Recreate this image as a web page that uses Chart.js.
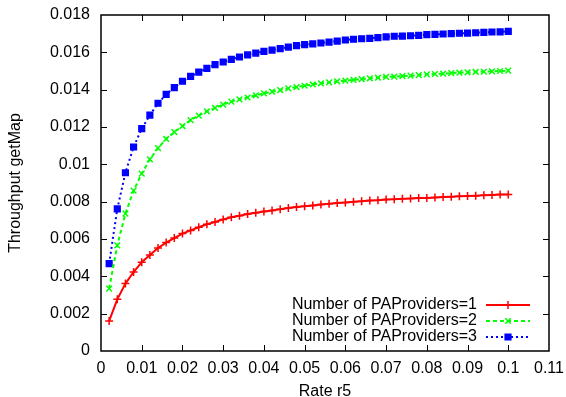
<!DOCTYPE html>
<html><head><meta charset="utf-8">
<script src="https://cdn.jsdelivr.net/npm/chart.js@4"></script>
<style>html,body{margin:0;padding:0;background:#fff}#wrap{width:566px;height:397px}</style>
</head><body><div id="wrap"><canvas id="c" width="566" height="397"></canvas></div>
<script>
const rates = [0.002,0.004,0.006,0.008,0.010,0.012,0.014,0.016,0.018,0.020,
  0.022,0.024,0.026,0.028,0.030,0.032,0.034,0.036,0.038,0.040,
  0.042,0.044,0.046,0.048,0.050,0.052,0.054,0.056,0.058,0.060,
  0.062,0.064,0.066,0.068,0.070,0.072,0.074,0.076,0.078,0.080,
  0.082,0.084,0.086,0.088,0.090,0.092,0.094,0.096,0.098,0.100];
const providers1 = [0.00161,0.00277,0.00361,0.00423,0.00476,0.00514,0.00552,0.00581,0.00605,0.00629,
  0.00646,0.00663,0.00679,0.00691,0.00705,0.00716,0.00725,0.00734,0.00741,0.00747,
  0.00753,0.00759,0.00766,0.00771,0.00775,0.00780,0.00785,0.00789,0.00793,0.00796,
  0.00800,0.00802,0.00806,0.00808,0.00811,0.00813,0.00816,0.00817,0.00819,0.00820,
  0.00822,0.00825,0.00827,0.00829,0.00830,0.00832,0.00834,0.00836,0.00838,0.00839];
const providers2 = [0.00334,0.00566,0.00736,0.00859,0.00950,0.01027,0.01087,0.01136,0.01173,0.01205,
  0.01237,0.01261,0.01284,0.01302,0.01320,0.01336,0.01348,0.01358,0.01370,0.01380,
  0.01389,0.01398,0.01407,0.01414,0.01421,0.01428,0.01434,0.01439,0.01445,0.01448,
  0.01452,0.01457,0.01461,0.01464,0.01468,0.01470,0.01473,0.01475,0.01478,0.01482,
  0.01484,0.01486,0.01489,0.01491,0.01493,0.01495,0.01496,0.01498,0.01500,0.01502];
const providers3 = [0.00468,0.00761,0.00955,0.01093,0.01191,0.01264,0.01327,0.01375,0.01411,0.01445,
  0.01471,0.01494,0.01514,0.01534,0.01548,0.01562,0.01575,0.01586,0.01596,0.01605,
  0.01612,0.01620,0.01628,0.01636,0.01641,0.01645,0.01650,0.01655,0.01660,0.01666,
  0.01670,0.01673,0.01675,0.01679,0.01683,0.01686,0.01687,0.01689,0.01691,0.01695,
  0.01696,0.01698,0.01700,0.01702,0.01703,0.01705,0.01707,0.01709,0.01710,0.01712];
const seriesLabels = ['Number of PAProviders=1','Number of PAProviders=2','Number of PAProviders=3'];
const xTickLabels = ['0','0.01','0.02','0.03','0.04','0.05','0.06','0.07','0.08','0.09','0.1','0.11'];
const yTickLabels = ['0','0.002','0.004','0.006','0.008','0.01','0.012','0.014','0.016','0.018'];
const xTitle = 'Rate r5';
const yTitle = 'Throughput getMap';

Chart.defaults.font.family = '"Liberation Sans", Arial, sans-serif';
Chart.defaults.font.size = 16;
Chart.defaults.color = '#000';

function pts(ys){ return rates.map((r,i)=>({x:r,y:ys[i]})); }

const framePlugin = {
  id: 'frame',
  beforeDatasetsDraw(chart){
    const {ctx, chartArea:a, scales:{x,y}} = chart;
    ctx.save();
    ctx.strokeStyle = '#000';
    ctx.lineWidth = 1;
    const tl = 6;
    ctx.beginPath();
    x.ticks.forEach((t,i)=>{
      if (i===0 || i===x.ticks.length-1) return;
      const px = Math.round(x.getPixelForValue(t.value))+0.5;
      ctx.moveTo(px,a.bottom); ctx.lineTo(px,a.bottom-tl);
      ctx.moveTo(px,a.top); ctx.lineTo(px,a.top+tl);
    });
    y.ticks.forEach((t,i)=>{
      if (i===0 || i===y.ticks.length-1) return;
      const py = Math.round(y.getPixelForValue(t.value))+0.5;
      ctx.moveTo(a.left,py); ctx.lineTo(a.left+tl,py);
      ctx.moveTo(a.right,py); ctx.lineTo(a.right-tl,py);
    });
    ctx.stroke();
    ctx.lineWidth = 1.5;
    ctx.strokeRect(a.left, a.top, a.right-a.left, a.bottom-a.top);
    ctx.restore();
  }
};

const legendPlugin = {
  id: 'gpLegend',
  afterDraw(chart){
    const {ctx, chartArea:a} = chart;
    ctx.save();
    ctx.font = '16px "Liberation Sans", Arial, sans-serif';
    ctx.textAlign = 'right';
    ctx.textBaseline = 'middle';
    chart.data.datasets.forEach((ds,i)=>{
      const yy = a.bottom - 46 + i*16;
      ctx.fillStyle = '#000';
      ctx.fillText(ds.label, a.right - 72, yy);
      const x0 = a.right - 63, x1 = a.right - 19;
      ctx.strokeStyle = ds.borderColor;
      ctx.lineWidth = ds.borderWidth;
      ctx.setLineDash(ds.borderDash || []);
      ctx.beginPath(); ctx.moveTo(x0,yy); ctx.lineTo(x1,yy); ctx.stroke();
      ctx.setLineDash([]);
      ctx.lineWidth = ds.pointBorderWidth;
      ctx.fillStyle = ds.borderColor;
      Chart.helpers.drawPoint(ctx, {pointStyle: ds.pointStyle, radius: ds.pointRadius, rotation: 0, borderWidth: ds.pointBorderWidth}, (x0+x1)/2, yy);
    });
    ctx.restore();
  }
};

function zeroPad(s){ s.paddingLeft = 0; s.paddingRight = 0; s.paddingTop = 0; s.paddingBottom = 0; }

new Chart(document.getElementById('c'), {
  type: 'line',
  data: {
    datasets: [
      {label: seriesLabels[0], data: pts(providers1), borderColor:'#ff0000', backgroundColor:'#ff0000',
       borderWidth:2, pointStyle:'cross', pointRadius:4, pointBorderWidth:1.5, pointBorderColor:'#ff0000', tension:0, fill:false},
      {label: seriesLabels[1], data: pts(providers2), borderColor:'#00ff00', backgroundColor:'#00ff00',
       borderWidth:2, borderDash:[4,3], pointStyle:'crossRot', pointRadius:4, pointBorderWidth:1.5, pointBorderColor:'#00ff00', tension:0, fill:false},
      {label: seriesLabels[2], data: pts(providers3), borderColor:'#0000ff', backgroundColor:'#0000ff',
       borderWidth:2, borderDash:[2,3], pointStyle:'rect', pointRadius:4, pointBorderWidth:1.5, pointBorderColor:'#0000ff', pointBackgroundColor:'#0000ff', tension:0, fill:false}
    ]
  },
  options: {
    responsive: false,
    animation: false,
    devicePixelRatio: 1,
    layout: {padding: {left:0, right:17, top:15, bottom:0}},
    plugins: {legend:{display:false}, tooltip:{enabled:false}},
    scales: {
      x: {
        type:'linear', min:0, max:0.11,
        grid:{display:false, drawTicks:false}, border:{display:false},
        ticks:{stepSize:0.01, padding:8, autoSkip:false, maxRotation:0, callback:(v,i)=>xTickLabels[i]},
        title:{display:true, text:xTitle, padding:{top:0, bottom:-3}, font:{size:16, lineHeight:1}},
        afterFit(s){ s.height = 46; zeroPad(s); }
      },
      y: {
        type:'linear', min:0, max:0.018,
        grid:{display:false, drawTicks:false}, border:{display:false},
        ticks:{stepSize:0.002, padding:11, autoSkip:false, callback:(v,i)=>yTickLabels[i]},
        title:{display:true, text:yTitle, padding:8, font:{size:16, lineHeight:1}},
        afterFit(s){ s.width = 101; zeroPad(s); }
      }
    }
  },
  plugins: [framePlugin, legendPlugin]
});
</script>
</body></html>
